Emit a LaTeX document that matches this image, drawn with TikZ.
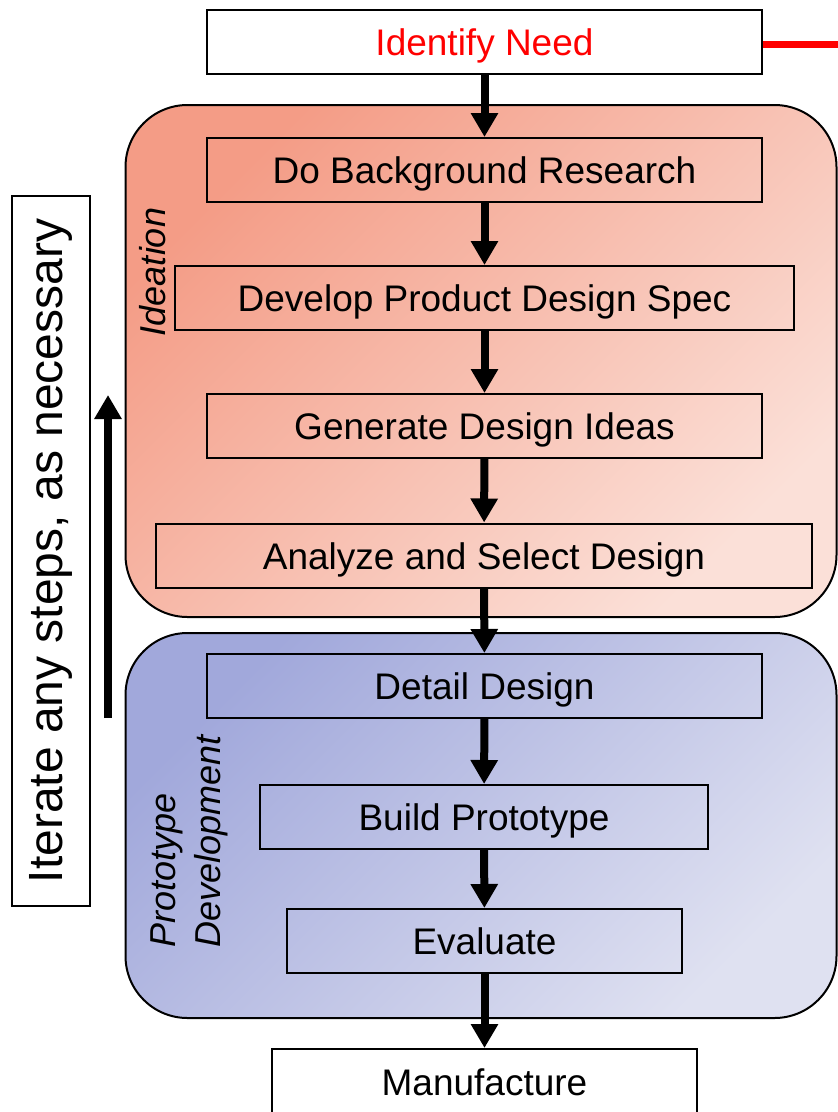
\documentclass[tikz,border=0pt]{standalone}
\usepackage{fontspec}
\setmainfont{Liberation Sans}
\usepackage{xcolor}
\definecolor{ideadark}{HTML}{F49C86}
\definecolor{idealight}{HTML}{FBE0D8}
\definecolor{protodark}{HTML}{A1A8DB}
\definecolor{protolight}{HTML}{DFE1F1}
\definecolor{needred}{HTML}{FF0000}
\usetikzlibrary{arrows.meta, positioning, shapes, calc}

\begin{document}
\begin{tikzpicture}[x=1pt, y=-1pt,
    every node/.style={font=\fontsize{37}{44}\selectfont, inner sep=0pt},
    steptext/.style={text height=27pt, text depth=0pt},
    stepbox/.style={steptext, draw=black, line width=2pt, minimum height=64pt},
    endbox/.style={stepbox, fill=white},
    region/.style={draw=black, line width=2pt, rounded corners=62pt},
    flowarrow/.style={-{Triangle[width=26pt, length=24pt]}, line width=8pt}]
        \useasboundingbox (0, 0) rectangle (838, 1112);
        % Phase regions (shaded)
        \node[region, minimum width=711pt, minimum height=512pt,
          top color=ideadark, bottom color=idealight, shading angle=45]
          (ideation) at (481, 361) {};
        \node[region, minimum width=711pt, minimum height=385pt,
          top color=protodark, bottom color=protolight, shading angle=45]
          (proto) at (481, 825.5) {};
        % Phase labels
        \node[rotate=90, font=\fontsize{36}{43}\selectfont\itshape]
          (ideationlabel) at (153, 272) {Ideation};
        \node[rotate=90, align=left, font=\fontsize{36}{45}\selectfont\itshape]
          (protolabel) at (189, 841) {Prototype\\Development};
        % Steps
        \node[endbox, minimum width=555pt, text=needred]
          (need) at (484.5, 41.5) {Identify Need};
        \node[stepbox, minimum width=555pt]
          (research) at (484.5, 170) {Do Background Research};
        \node[stepbox, minimum width=619pt]
          (pds) at (484.5, 298) {Develop Product Design Spec};
        \node[stepbox, minimum width=555pt]
          (ideas) at (484.5, 426) {Generate Design Ideas};
        \node[stepbox, minimum width=656pt]
          (select) at (484, 555.5) {Analyze and Select Design};
        \node[stepbox, minimum width=555pt]
          (detail) at (484.5, 686) {Detail Design};
        \node[stepbox, minimum width=448pt]
          (build) at (484, 817) {Build Prototype};
        \node[stepbox, minimum width=395pt]
          (evaluate) at (484.5, 941) {Evaluate};
        \node[endbox, minimum width=425pt, minimum height=72pt]
          (manufacture) at (484.5, 1085) {};
        \node[steptext] (manufacturetext) at (484.5, 1082) {Manufacture};
        % Flow arrows
        \draw[flowarrow] (need) -- (research);
        \draw[flowarrow] (research) -- (pds);
        \draw[flowarrow] (pds) -- (ideas);
        \draw[flowarrow] (ideas) -- (select);
        \draw[flowarrow] (select) -- (detail);
        \draw[flowarrow] (detail) -- (build);
        \draw[flowarrow] (build) -- (evaluate);
        \draw[flowarrow] (evaluate) -- (manufacture);
        % Red link off the right edge
        \coordinate (redend) at (838, 44);
        \draw[needred, line width=7pt] (need.east |- redend) -- (redend);
        % Iterate note
        \node[draw=black, line width=2pt, rotate=90,
          minimum width=710pt, minimum height=78pt,
          font=\fontsize{48}{56}\selectfont]
          (iterate) at (51, 551) {Iterate any steps, as necessary};
        \coordinate (iterlow) at (108, 718);
        \coordinate (iterhigh) at (108, 395);
        \draw[flowarrow] (iterlow) -- (iterhigh);
      \end{tikzpicture}
\end{document}
